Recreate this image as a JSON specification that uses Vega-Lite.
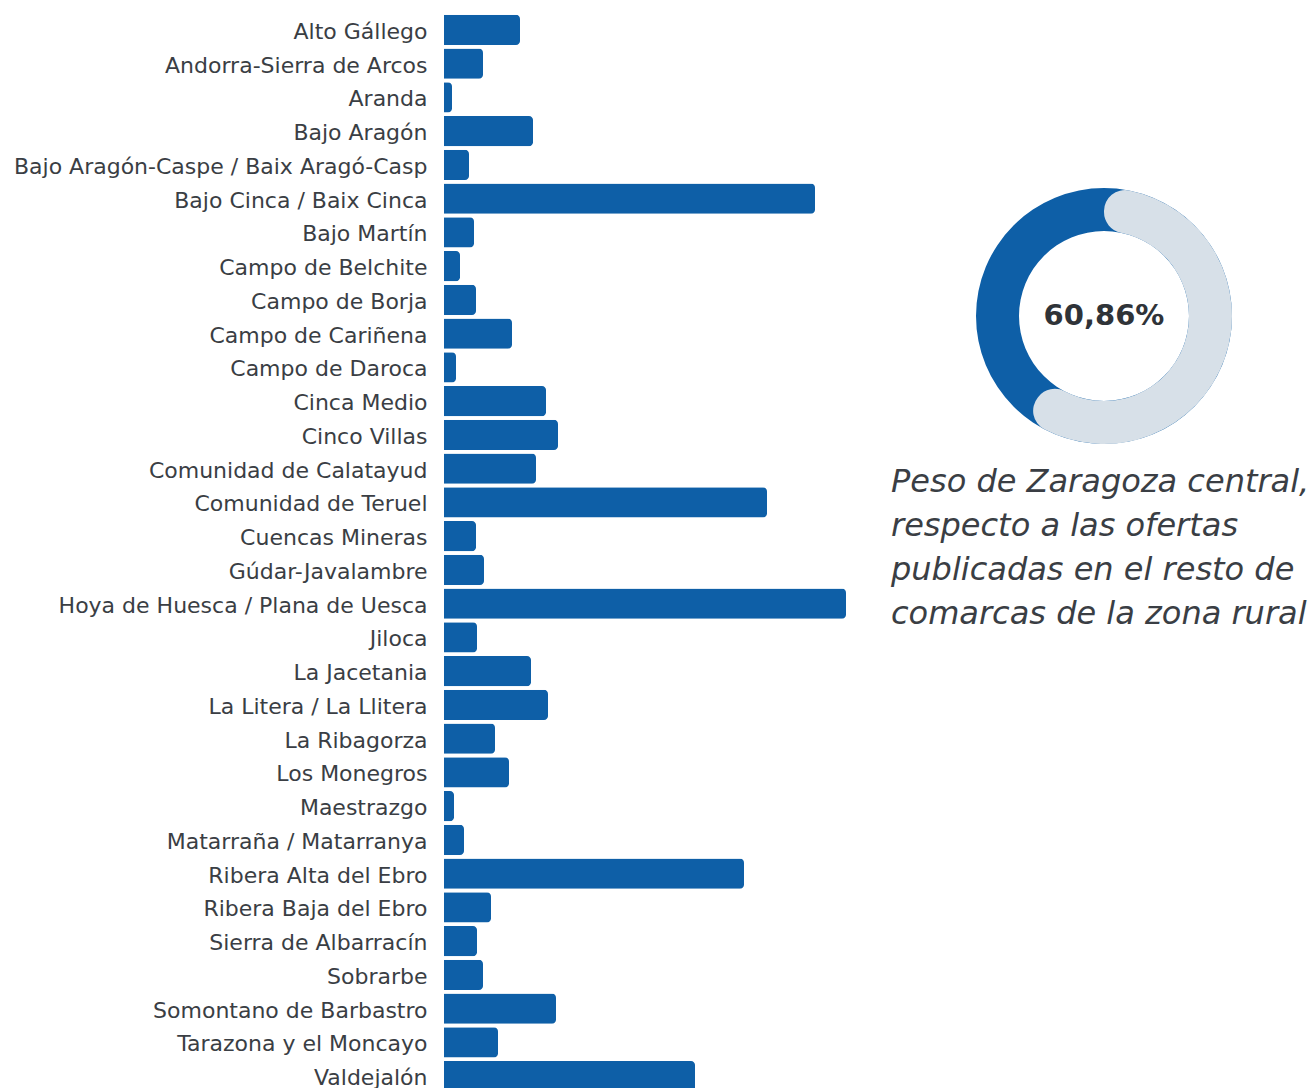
{
  "$schema": "https://vega.github.io/schema/vega-lite/v6.json",
  "padding": {"left": 13, "top": 13, "right": 0, "bottom": 0},
  "background": "white",
  "config": {"view": {"stroke": null}, "font": "DejaVu Sans"},
  "spacing": 27,
  "hconcat": [
    {
      "width": 420,
      "height": 1080,
      "data": {
        "values": [
          {"comarca": "Alto Gállego", "ofertas": 76},
          {"comarca": "Andorra-Sierra de Arcos", "ofertas": 39},
          {"comarca": "Aranda", "ofertas": 8},
          {"comarca": "Bajo Aragón", "ofertas": 89},
          {"comarca": "Bajo Aragón-Caspe / Baix Aragó-Casp", "ofertas": 25},
          {"comarca": "Bajo Cinca / Baix Cinca", "ofertas": 371},
          {"comarca": "Bajo Martín", "ofertas": 30},
          {"comarca": "Campo de Belchite", "ofertas": 16},
          {"comarca": "Campo de Borja", "ofertas": 32},
          {"comarca": "Campo de Cariñena", "ofertas": 68},
          {"comarca": "Campo de Daroca", "ofertas": 12},
          {"comarca": "Cinca Medio", "ofertas": 102},
          {"comarca": "Cinco Villas", "ofertas": 114},
          {"comarca": "Comunidad de Calatayud", "ofertas": 92},
          {"comarca": "Comunidad de Teruel", "ofertas": 323},
          {"comarca": "Cuencas Mineras", "ofertas": 32},
          {"comarca": "Gúdar-Javalambre", "ofertas": 40},
          {"comarca": "Hoya de Huesca / Plana de Uesca", "ofertas": 402},
          {"comarca": "Jiloca", "ofertas": 33},
          {"comarca": "La Jacetania", "ofertas": 87},
          {"comarca": "La Litera / La Llitera", "ofertas": 104},
          {"comarca": "La Ribagorza", "ofertas": 51},
          {"comarca": "Los Monegros", "ofertas": 65},
          {"comarca": "Maestrazgo", "ofertas": 10},
          {"comarca": "Matarraña / Matarranya", "ofertas": 20},
          {"comarca": "Ribera Alta del Ebro", "ofertas": 300},
          {"comarca": "Ribera Baja del Ebro", "ofertas": 47},
          {"comarca": "Sierra de Albarracín", "ofertas": 33},
          {"comarca": "Sobrarbe", "ofertas": 39},
          {"comarca": "Somontano de Barbastro", "ofertas": 112},
          {"comarca": "Tarazona y el Moncayo", "ofertas": 54},
          {"comarca": "Valdejalón", "ofertas": 251}
        ]
      },
      "mark": {"type": "bar", "color": "#0e5fa7", "cornerRadiusEnd": 4},
      "encoding": {
        "y": {
          "field": "comarca",
          "type": "nominal",
          "sort": null,
          "title": null,
          "scale": {"paddingInner": 0.11, "paddingOuter": 0.055},
          "axis": {
            "domain": false,
            "ticks": false,
            "labelFontSize": 22,
            "labelColor": "#3a3e44",
            "labelPadding": 17,
            "labelOffset": 2,
            "labelLimit": 700,
            "labelFont": "DejaVu Sans"
          }
        },
        "x": {
          "field": "ofertas",
          "type": "quantitative",
          "scale": {"domain": [0, 420]},
          "axis": null
        }
      }
    },
    {
      "width": 426,
      "height": 606,
      "data": {"values": [{"parte": "Zaragoza central", "valor": 60.86, "etiqueta": "60,86%"}]},
      "title": {
        "text": "Peso de Zaragoza central,",
        "subtitle": ["respecto a las ofertas", "publicadas en el resto de", "comarcas de la zona rural"],
        "orient": "bottom",
        "anchor": "start",
        "frame": "group",
        "offset": -152,
        "font": "DejaVu Sans",
        "fontStyle": "italic",
        "fontWeight": "normal",
        "fontSize": 32,
        "color": "#3a3e44",
        "subtitleFont": "DejaVu Sans",
        "subtitleFontStyle": "italic",
        "subtitleFontSize": 32,
        "subtitleColor": "#3a3e44",
        "subtitleLineHeight": 44,
        "subtitlePadding": 12
      },
      "layer": [
        {
          "data": {"values": [{"total": 100}]},
          "mark": {"type": "arc", "innerRadius": 85, "outerRadius": 128, "color": "#0e5fa7"},
          "encoding": {"theta": {"field": "total", "type": "quantitative", "scale": {"domain": [0, 100]}}}
        },
        {
          "mark": {"type": "arc", "innerRadius": 85, "outerRadius": 128, "cornerRadius": 21, "color": "#d7e0e8"},
          "encoding": {"theta": {"field": "valor", "type": "quantitative", "scale": {"domain": [0, 100]}}}
        },
        {
          "mark": {"type": "text", "fontSize": 29, "fontWeight": "bold", "color": "#2f3338", "font": "DejaVu Sans"},
          "encoding": {"text": {"field": "etiqueta", "type": "nominal"}}
        }
      ]
    }
  ]
}
